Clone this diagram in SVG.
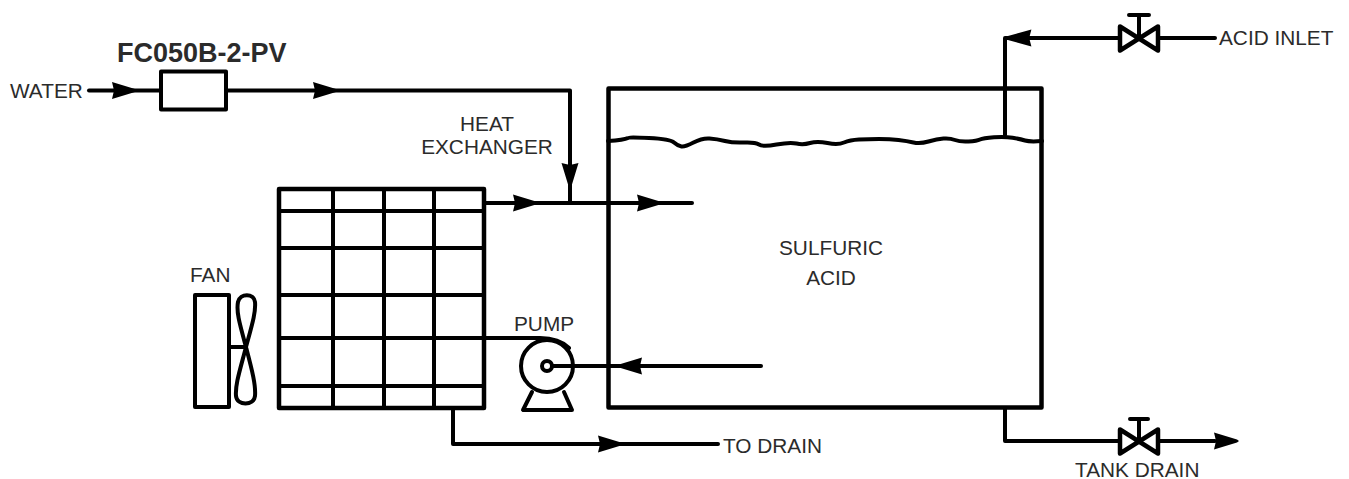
<svg xmlns="http://www.w3.org/2000/svg" width="1349" height="479" viewBox="0 0 1349 479">
<style>
.l{fill:none;stroke:#000;stroke-width:4;stroke-linejoin:round;stroke-linecap:round}
.t{stroke-width:4.500}
.w{fill:#fff;stroke:#000;stroke-width:4;stroke-linejoin:round}
.a{fill:#000;stroke:none}
text{font-family:"Liberation Sans",Arial,sans-serif;font-size:20.800px;fill:#2b2b2b}
.b{font-size:27px;font-weight:bold}
</style>
<defs>
<path id="ar" class="a" d="M-24-8.500 L-1 -1.500 L1 0 L-1 1.500 L-24 8.500 L-22 0 Z"/>
<path id="valve" d="M-19-12 L19 12 L19-12 L-19 12 Z" fill="#fff" stroke="#000" stroke-width="4.500" stroke-linejoin="round"/>
</defs>
<rect width="1349" height="479" fill="#fff"/>
<g id="connectors">
<path class="l" d="M89 90.500H161"/>
<path class="l" d="M226 90.500H570V203"/>
<path class="l" d="M485 203H692"/>
<path class="l" d="M485 338H540C553 338 562 341 569 348"/>
<path class="l" d="M552 366H761"/>
<path class="l" d="M453 409V444H718"/>
<path class="l" d="M1005 135V38H1215"/>
<path class="l" d="M1005 408V441H1215"/>
<use href="#ar" transform="translate(136 90.500)"/>
<use href="#ar" transform="translate(337 90.500)"/>
<use href="#ar" transform="translate(570 187) rotate(90)"/>
<use href="#ar" transform="translate(537 203)"/>
<use href="#ar" transform="translate(661 203)"/>
<use href="#ar" transform="translate(618 366) rotate(180)"/>
<use href="#ar" transform="translate(622 444)"/>
<use href="#ar" transform="translate(1005 38) rotate(180) scale(1.100 1)"/>
<use href="#ar" transform="translate(1238 441)"/>
</g>
<g id="flow-meter">
<rect class="w" x="161" y="71.500" width="65" height="38"/>
<text class="b" x="117" y="62">FC050B-2-PV</text>
</g>
<text id="water" x="10" y="98">WATER</text>
<g id="heat-exchanger-label">
<text x="487" y="131" text-anchor="middle">HEAT</text>
<text x="487" y="154" text-anchor="middle">EXCHANGER</text>
</g>
<g id="heat-exchanger">
<rect class="l t" x="279" y="189" width="205" height="219"/>
<path class="l" d="M279 211H484M279 248H484M279 295H484M279 338H484M279 386H484M333 189V408M384 189V408M434 189V408"/>
</g>
<g id="fan">
<text x="190" y="282">FAN</text>
<rect class="l" x="195" y="295" width="34" height="112"/>
<path class="l" d="M229 347H246"/>
<path class="l" d="M246 347C240 325 236 312 238 302C240 293 254 293 255 302C256 312 252 325 246 347C240 370 235 385 236 396C237 406 254 406 255 396C256 385 252 370 246 347Z"/>
</g>
<g id="pump">
<text x="514" y="331">PUMP</text>
<circle class="l" cx="547" cy="366" r="26"/>
<circle class="w" cx="547" cy="366" r="5"/>
<path class="l" d="M532 392L523 410H572L564 392"/>
</g>
<g id="tank">
<rect class="l t" x="608.500" y="88.500" width="433" height="319"/>
<path class="l" d="M608 141Q624 140 628 138Q628 137 649 138Q670 139 674 142.500Q678 146 681.500 146.500Q685 147 693.500 142.500Q702 138 709.500 138.500Q717 139 725 141Q733 143 744 142.500Q755 142 759 144.500Q763 147 776.500 144.500Q790 142 796.500 143.500Q803 145 810 143Q817 141 827.500 143Q838 145 844 142.500Q850 140 859 139.500Q868 139 879 139Q890 139 898.500 140Q907 141 913.500 142.500Q920 144 928.500 141.500Q937 139 943.500 138.500Q950 138 955 140Q960 142 968.500 141.500Q977 141 980 139.500Q983 138 994 137.200Q1005 136.500 1012.500 137.700Q1020 139 1025 140.500Q1030 142 1042 141"/>
<text x="831" y="255" text-anchor="middle">SULFURIC</text>
<text x="831" y="285" text-anchor="middle">ACID</text>
</g>
<g id="inlet-valve">
<path class="l" d="M1139 38V16M1129 15H1149"/>
<use href="#valve" transform="translate(1139 38.500)"/>
</g>
<text x="1219" y="45">ACID INLET</text>
<g id="drain-valve">
<path class="l" d="M1139 441V419M1130 419H1148"/>
<use href="#valve" transform="translate(1139 441.500)"/>
</g>
<text x="1075" y="477">TANK DRAIN</text>
<text x="723" y="453">TO DRAIN</text>
</svg>
